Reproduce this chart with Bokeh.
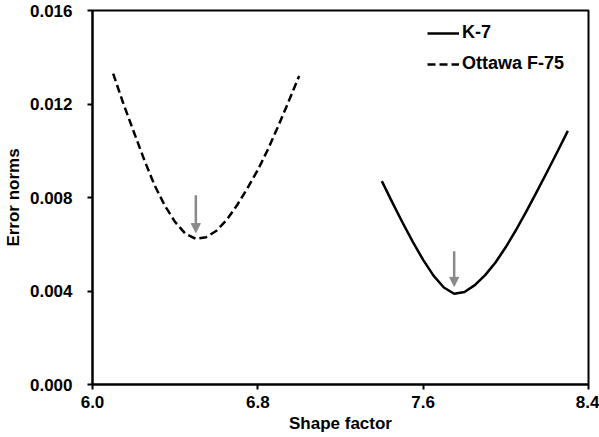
from bokeh.plotting import figure
from bokeh.models import (Range1d, FixedTicker, PrintfTickFormatter, Legend,
                          LegendItem, Arrow, NormalHead)
from bokeh.embed import file_html
from bokeh.resources import INLINE

# Error norm versus shape factor for the two powders
ottawa_x = [6.10, 6.15, 6.20, 6.25, 6.30, 6.35, 6.40, 6.45, 6.50, 6.55,
            6.60, 6.65, 6.70, 6.75, 6.80, 6.85, 6.90, 6.95, 7.00]
ottawa_err = [0.01330, 0.01200, 0.01080, 0.00962, 0.00853, 0.00765, 0.00695,
              0.00645, 0.00623, 0.00630, 0.00658, 0.00705, 0.00768, 0.00840,
              0.00918, 0.01008, 0.01108, 0.01213, 0.01320]

k7_x = [7.40, 7.45, 7.50, 7.55, 7.60, 7.65, 7.70, 7.75, 7.80, 7.85,
        7.90, 7.95, 8.00, 8.05, 8.10, 8.15, 8.20, 8.25, 8.30]
k7_err = [0.00870, 0.00780, 0.00693, 0.00610, 0.00533, 0.00466, 0.00415,
          0.00388, 0.00396, 0.00425, 0.00468, 0.00522, 0.00588, 0.00662,
          0.00742, 0.00825, 0.00910, 0.00997, 0.01085]

# Arrows marking the optimum shape factor of each curve
arrow_x = [6.50, 7.75]
arrow_top = [0.0081, 0.0057]
arrow_tip = [0.0065, 0.0042]

x_ticks = [6.0, 6.8, 7.6, 8.4]
y_ticks = [0.000, 0.004, 0.008, 0.012, 0.016]

FONT = "Liberation Sans"

p = figure(width=599, height=437, output_backend="svg", toolbar_location=None,
           x_range=Range1d(6.0, 8.4), y_range=Range1d(0.0, 0.016),
           min_border_left=92, min_border_right=11, min_border_top=10,
           min_border_bottom=53)
p.grid.visible = False
p.outline_line_color = "black"
p.outline_line_width = 2
p.background_fill_color = "white"
p.border_fill_color = "white"

p.xaxis.ticker = FixedTicker(ticks=x_ticks)
p.yaxis.ticker = FixedTicker(ticks=y_ticks)
p.xaxis.formatter = PrintfTickFormatter(format="%.1f")
p.yaxis.formatter = PrintfTickFormatter(format="%.3f")
p.xaxis.axis_label = "Shape factor"
p.yaxis.axis_label = "Error norms"

for ax in (p.xaxis, p.yaxis):
    ax.axis_line_width = 2
    ax.axis_line_color = "black"
    ax.major_tick_line_width = 2
    ax.major_tick_in = 0
    ax.major_tick_out = 5
    ax.minor_tick_line_color = None
    ax.major_label_text_font = FONT
    ax.major_label_text_font_style = "bold"
    ax.major_label_text_font_size = "17px"
    ax.major_label_text_color = "black"
    ax.axis_label_text_font = FONT
    ax.axis_label_text_font_style = "bold"
    ax.axis_label_text_font_size = "17px"
    ax.axis_label_text_color = "black"

p.xaxis.major_label_standoff = 6
p.xaxis.axis_label_standoff = 3
p.yaxis.major_label_standoff = 15
p.yaxis.axis_label_standoff = 4

r_k7 = p.line(k7_x, k7_err, line_color="black", line_width=2.5,
              line_join="round")
r_ot = p.line(ottawa_x, ottawa_err, line_color="black", line_width=2.5,
              line_dash="8 4", line_join="round")

for xa, yt, yb in zip(arrow_x, arrow_top, arrow_tip):
    p.add_layout(Arrow(x_start=xa, y_start=yt, x_end=xa, y_end=yb,
                       line_color="#8a8a8a", line_width=2.5,
                       end=NormalHead(size=9, fill_color="#8a8a8a",
                                      line_color="#8a8a8a")))

legend = Legend(items=[LegendItem(label="K-7", renderers=[r_k7]),
                       LegendItem(label="Ottawa F-75", renderers=[r_ot])],
                location="top_right", border_line_color=None,
                background_fill_alpha=0, label_text_font=FONT,
                label_text_font_style="bold", label_text_font_size="18px",
                label_text_color="black",
                glyph_width=32, glyph_height=20, label_height=20,
                label_width=114, label_standoff=3, spacing=10, padding=8,
                margin=12)
p.add_layout(legend)

open("out.html", "w").write(file_html(p, INLINE))
